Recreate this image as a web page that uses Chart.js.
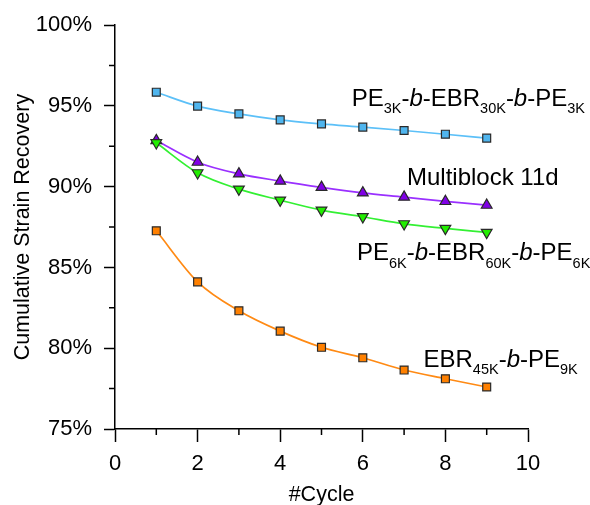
<!DOCTYPE html>
<html>
<head>
<meta charset="utf-8">
<script src="https://cdn.jsdelivr.net/npm/chart.js@4.4.1/dist/chart.umd.min.js"></script>
<style>
  html, body { margin: 0; padding: 0; background: #fff; }
  #wrap { width: 590px; height: 505px; position: relative; }
</style>
</head>
<body>
<div id="wrap"><canvas id="c" width="590" height="505"></canvas></div>
<script>
const cycles = [1, 2, 3, 4, 5, 6, 7, 8, 9];
const pe3kValues = [95.85, 94.99, 94.51, 94.14, 93.89, 93.69, 93.48, 93.25, 93.01];
const multiblockValues = [92.86, 91.52, 90.80, 90.35, 89.96, 89.62, 89.36, 89.09, 88.86];
const pe6kValues = [92.72, 90.86, 89.85, 89.17, 88.55, 88.14, 87.70, 87.42, 87.17];
const ebrValues = [87.27, 84.11, 82.32, 81.06, 80.06, 79.41, 78.65, 78.11, 77.60];
const xTicks = [0, 2, 4, 6, 8, 10];
const yTicks = [75, 80, 85, 90, 95, 100];

const labelPE3K = [["PE"], ["3K", "sub"], ["-"], ["b", "it"], ["-EBR"], ["30K", "sub"], ["-"], ["b", "it"], ["-PE"], ["3K", "sub"]];
const labelMulti = [["Multiblock 11d"]];
const labelPE6K = [["PE"], ["6K", "sub"], ["-"], ["b", "it"], ["-EBR"], ["60K", "sub"], ["-"], ["b", "it"], ["-PE"], ["6K", "sub"]];
const labelEBR = [["EBR"], ["45K", "sub"], ["-"], ["b", "it"], ["-PE"], ["9K", "sub"]];

const FONT = "'Liberation Sans', Arial, sans-serif";

function pts(vals) { return cycles.map((c, i) => ({ x: c, y: vals[i] })); }

const annotations = [
  { parts: labelPE3K, x: 5.73, y: 95.0 },
  { parts: labelMulti, x: 7.07, y: 90.10 },
  { parts: labelPE6K, x: 5.86, y: 85.46 },
  { parts: labelEBR, x: 7.47, y: 78.86 }
];

const textPlugin = {
  id: 'richLabels',
  afterDatasetsDraw(chart) {
    const ctx = chart.ctx;
    const xs = chart.scales.x, ys = chart.scales.y;
    ctx.save();
    ctx.fillStyle = '#000';
    ctx.textBaseline = 'alphabetic';
    ctx.textAlign = 'left';
    annotations.forEach(a => {
      let px = xs.getPixelForValue(a.x);
      const py = ys.getPixelForValue(a.y);
      a.parts.forEach(p => {
        const t = p[0], kind = p[1];
        let dy = 0;
        if (kind === 'sub') { ctx.font = "14.5px " + FONT; dy = 7.5; }
        else if (kind === 'it') { ctx.font = "italic 24px " + FONT; }
        else { ctx.font = "24px " + FONT; }
        ctx.fillText(t, px, py + dy);
        px += ctx.measureText(t).width;
      });
    });
    ctx.restore();
  }
};

const minorTickPlugin = {
  id: 'minorTicks',
  afterDraw(chart) {
    const ctx = chart.ctx;
    const xs = chart.scales.x, ys = chart.scales.y;
    const ca = chart.chartArea;
    ctx.save();
    ctx.strokeStyle = '#000';
    ctx.lineWidth = 1.5;
    ctx.beginPath();
    xs.ticks.forEach(t => {
      if (xTicks.indexOf(t.value) < 0) {
        const px = xs.getPixelForValue(t.value);
        ctx.moveTo(px, ca.bottom);
        ctx.lineTo(px, ca.bottom + 6);
      }
    });
    ys.ticks.forEach(t => {
      if (yTicks.indexOf(t.value) < 0) {
        const py = ys.getPixelForValue(t.value);
        ctx.moveTo(ca.left, py);
        ctx.lineTo(ca.left - 6, py);
      }
    });
    ctx.stroke();
    ctx.restore();
  }
};

function ds(label, vals, line, fill, style, rotation, radius, order) {
  return {
    label: label,
    data: pts(vals),
    borderColor: line,
    backgroundColor: fill,
    borderWidth: 1.7,
    pointStyle: style,
    pointRotation: rotation,
    pointRadius: radius,
    pointBackgroundColor: fill,
    pointBorderColor: '#2a2a2a',
    pointBorderWidth: 1.2,
    cubicInterpolationMode: 'monotone',
    showLine: true,
    order: order
  };
}

new Chart(document.getElementById('c'), {
  type: 'line',
  data: {
    datasets: [
      ds('PE3K-b-EBR30K-b-PE3K', pe3kValues, '#5cc0f8', '#4fb5ee', 'rect', 0, 5.6, 3),
      ds('EBR45K-b-PE9K', ebrValues, '#ff8a14', '#ff8000', 'rect', 0, 5.6, 2),
      ds('Multiblock 11d', multiblockValues, '#9a30ff', '#8000e6', 'triangle', 0, 6.2, 1),
      ds('PE6K-b-EBR60K-b-PE6K', pe6kValues, '#33f033', '#22ee00', 'triangle', 180, 6.2, 0)
    ]
  },
  options: {
    responsive: false,
    animation: false,
    devicePixelRatio: 1,
    layout: { padding: { top: 25, right: 62, left: 0, bottom: 0 } },
    plugins: { legend: { display: false }, tooltip: { enabled: false } },
    scales: {
      x: {
        type: 'linear',
        min: 0, max: 10,
        afterFit(s) { s.height = 76; },
        ticks: {
          stepSize: 1,
          autoSkip: false,
          maxRotation: 0,
          padding: 9,
          color: '#000',
          font: { family: FONT, size: 22 },
          callback: v => (xTicks.indexOf(v) >= 0 ? String(v) : '')
        },
        grid: {
          drawOnChartArea: false,
          drawTicks: true,
          tickLength: 13,
          tickWidth: 1.5,
          tickColor: c => (c.tick && xTicks.indexOf(c.tick.value) >= 0 ? '#000' : 'rgba(0,0,0,0)')
        },
        border: { display: true, color: '#000', width: 1.5 },
        title: {
          display: true, text: '#Cycle', color: '#000',
          font: { family: FONT, size: 21.5, lineHeight: 1 },
          padding: { top: 0, bottom: -1 }
        }
      },
      y: {
        type: 'linear',
        min: 75, max: 100,
        afterFit(s) { s.width = 115; },
        ticks: {
          stepSize: 2.5,
          autoSkip: false,
          padding: 12,
          color: '#000',
          font: { family: FONT, size: 22 },
          callback: v => (yTicks.indexOf(v) >= 0 ? v + '%' : '')
        },
        grid: {
          drawOnChartArea: false,
          drawTicks: true,
          tickLength: 11,
          tickWidth: 1.5,
          tickColor: c => (c.tick && yTicks.indexOf(c.tick.value) >= 0 ? '#000' : 'rgba(0,0,0,0)')
        },
        border: { display: true, color: '#000', width: 1.5 },
        title: {
          display: true, text: 'Cumulative Strain Recovery', color: '#000',
          font: { family: FONT, size: 21.5, lineHeight: 1 },
          padding: { top: 12, bottom: 0 }
        }
      }
    }
  },
  plugins: [textPlugin, minorTickPlugin]
});
</script>
</body>
</html>
